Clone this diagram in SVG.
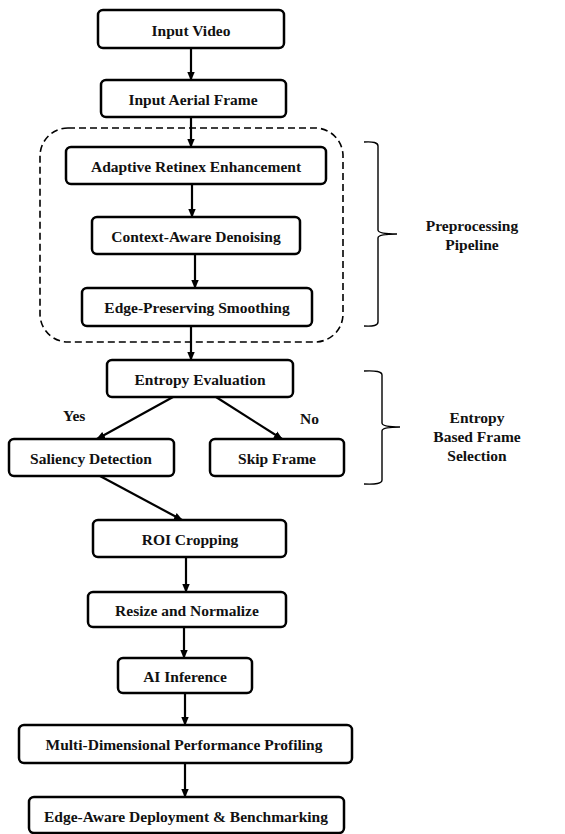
<svg xmlns="http://www.w3.org/2000/svg" width="565" height="834" viewBox="0 0 565 834">
<defs>
<marker id="ah" markerWidth="9" markerHeight="9" refX="8" refY="4.5" orient="auto" markerUnits="userSpaceOnUse">
<path d="M0,0.8 L9,4.5 L0,8.2 Z" fill="#000"/>
</marker>
<style>
.box{fill:#fff;stroke:#000;stroke-width:2.5}
text{font-family:'Liberation Serif','DejaVu Serif',serif;font-weight:bold;font-size:15.5px;fill:#111;text-anchor:middle}
.c{stroke:#000;stroke-width:2.2;fill:none;marker-end:url(#ah)}
.br{stroke:#000;stroke-width:1.4;fill:none}
</style>
</defs>
<rect width="565" height="834" fill="#fff"/>
<g id="group-preprocessing">
<rect x="40" y="128" width="303" height="214" rx="28" fill="none" stroke="#000" stroke-width="1.6" stroke-dasharray="7,4"/>
</g>
<g id="connectors">
<line class="c" x1="191" y1="48" x2="191" y2="80"/>
<line class="c" x1="191" y1="117" x2="191" y2="147"/>
<line class="c" x1="192" y1="184" x2="192" y2="217"/>
<line class="c" x1="195" y1="254" x2="195" y2="288"/>
<line class="c" x1="191" y1="326" x2="191" y2="360"/>
<line class="c" x1="173" y1="397" x2="97" y2="439"/>
<line class="c" x1="216" y1="397" x2="282" y2="439"/>
<line class="c" x1="100" y1="476" x2="182" y2="520"/>
<line class="c" x1="186" y1="557" x2="186" y2="592"/>
<line class="c" x1="184" y1="627" x2="184" y2="658"/>
<line class="c" x1="185" y1="693" x2="185" y2="725"/>
<line class="c" x1="185" y1="763" x2="185" y2="797"/>
</g>
<g id="input-video"><rect class="box" x="98" y="10" width="186" height="38" rx="5"/><text x="191" y="36">Input Video</text></g>
<g id="input-aerial-frame"><rect class="box" x="101" y="80" width="185" height="37" rx="5"/><text x="193" y="105">Input Aerial Frame</text></g>
<g id="adaptive-retinex"><rect class="box" x="66" y="147" width="260" height="37" rx="5"/><text x="196" y="172">Adaptive Retinex Enhancement</text></g>
<g id="context-aware-denoising"><rect class="box" x="92" y="217" width="208" height="37" rx="5"/><text x="196" y="242">Context-Aware Denoising</text></g>
<g id="edge-preserving-smoothing"><rect class="box" x="82" y="288" width="230" height="38" rx="5"/><text x="197" y="313">Edge-Preserving Smoothing</text></g>
<g id="entropy-evaluation"><rect class="box" x="107" y="360" width="186" height="37" rx="5"/><text x="200" y="385">Entropy Evaluation</text></g>
<g id="saliency-detection"><rect class="box" x="9" y="439" width="165" height="37" rx="5"/><text x="91" y="464">Saliency Detection</text></g>
<g id="skip-frame"><rect class="box" x="210" y="439" width="134" height="37" rx="5"/><text x="277" y="464">Skip Frame</text></g>
<g id="roi-cropping"><rect class="box" x="93" y="520" width="193" height="37" rx="5"/><text x="190" y="545">ROI Cropping</text></g>
<g id="resize-normalize"><rect class="box" x="88" y="592" width="198" height="35" rx="5"/><text x="187" y="616">Resize and Normalize</text></g>
<g id="ai-inference"><rect class="box" x="118" y="658" width="134" height="35" rx="5"/><text x="185" y="682">AI Inference</text></g>
<g id="performance-profiling"><rect class="box" x="19" y="725" width="333" height="38" rx="5"/><text x="184" y="750">Multi-Dimensional Performance Profiling</text></g>
<g id="edge-aware-deployment"><rect class="box" x="29" y="797" width="315" height="36" rx="5"/><text x="186" y="822">Edge-Aware Deployment &amp; Benchmarking</text></g>
<g id="labels">
<text x="63" y="421" style="text-anchor:start">Yes</text>
<text x="300" y="424" style="text-anchor:start">No</text>
</g>
<g id="brace-preprocessing">
<path class="br" d="M364,142 Q378,141 378,146 L378,230 Q378,234 397,234 Q378,234 378,238 L378,322 Q378,327 364,326"/>
<text x="472" y="231">Preprocessing</text>
<text x="472" y="250">Pipeline</text>
</g>
<g id="brace-entropy">
<path class="br" d="M364,371 Q382,370 382,375 L382,423 Q382,427 400,427 Q382,427 382,431 L382,480 Q382,485 364,484"/>
<text x="477" y="423">Entropy</text>
<text x="477" y="442">Based Frame</text>
<text x="477" y="461">Selection</text>
</g>
</svg>
